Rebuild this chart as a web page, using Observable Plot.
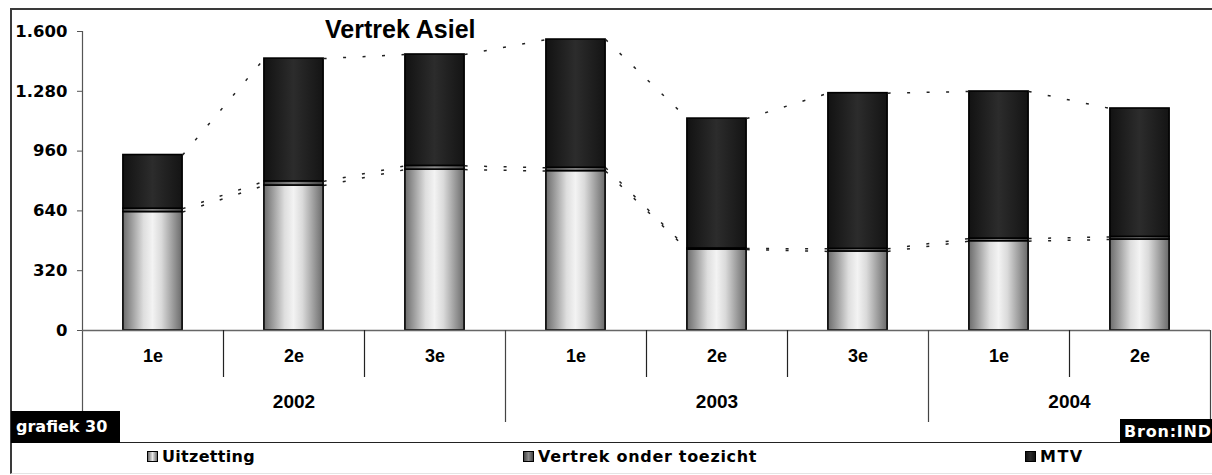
<!DOCTYPE html>
<html><head><meta charset="utf-8">
<script src="https://cdn.jsdelivr.net/npm/d3@7"></script>
<script src="https://cdn.jsdelivr.net/npm/@observablehq/plot@0.6"></script>
<style>
html,body{margin:0;padding:0;background:#fff;width:1212px;height:475px;overflow:hidden;}
body{position:relative;}
#frame{position:absolute;left:10px;top:8px;width:1210px;height:466px;border-left:2px solid #3a3a3a;border-top:2px solid #3a3a3a;border-bottom:1px solid #e4e4e4;box-sizing:border-box;}
#chart{position:absolute;left:0;top:0;}
#title{position:absolute;left:325px;top:17px;font:bold 25px/25px "Liberation Sans",Arial,sans-serif;color:#000;}
#hline{position:absolute;left:11px;top:442px;width:1201px;height:0;border-top:1.5px solid #222;}
#graf{position:absolute;left:11px;top:411px;width:104px;height:32px;padding-left:5px;background:#000;color:#fff;font:bold 16px/32px "DejaVu Sans",sans-serif;}
#bron{position:absolute;left:1120px;top:419px;width:92px;height:24px;padding-left:4px;box-sizing:border-box;background:#000;color:#fff;font:bold 16px/25px "DejaVu Sans",sans-serif;letter-spacing:0.8px;white-space:nowrap;}
.lg{position:absolute;top:449px;font:bold 16px/16px "DejaVu Sans",sans-serif;color:#000;white-space:nowrap;}
.sw{display:inline-block;width:9px;height:9px;border:1px solid #000;margin-right:4px;vertical-align:0px;}
</style></head><body>
<div id="frame"></div>
<div id="chart"></div>
<div id="title">Vertrek Asiel</div>
<div id="hline"></div>
<div id="graf">grafiek 30</div>
<div id="bron">Bron:IND</div>
<div id="legend"></div>
<script>
// ---- data ----
const quarters = ["1e","2e","3e","1e","2e","3e","1e","2e"];
const years = ["2002","2002","2002","2003","2003","2003","2004","2004"];
const uitzetting = [634, 776, 861, 853, 433, 423, 478, 487];
const vertrekOnderToezicht = [18, 22, 20, 18, 6, 14, 14, 14];
const mtv = [287, 657, 596, 686, 695, 833, 787, 687];
const seriesNames = ["Uitzetting", "Vertrek onder toezicht", "MTV"];
const yTicks = [0, 320, 640, 960, 1280, 1600];

// ---- derived tables ----
const seriesValues = [uitzetting, vertrekOnderToezicht, mtv];
const gradIds = ["gU", "gV", "gM"];
const hw = 0.21; // half bar width in band units
const rows = [];
const levels = [[], [], []];
quarters.forEach((q, i) => {
  let base = 0;
  seriesValues.forEach((vals, s) => {
    rows.push({i, series: seriesNames[s], y1: base, y2: base + vals[i]});
    base += vals[i];
    levels[s].push(base);
  });
});
const links = [];
levels.forEach(lev => {
  for (let i = 0; i < lev.length - 1; i++) links.push({i, x1: i + hw, x2: i + 1 - hw, y1: lev[i], y2: lev[i + 1]});
});
const idx = quarters.map((_, i) => i);
const yearList = [...new Set(years)];
const yearLabels = yearList.map(y => ({year: y, x: d3.mean(idx.filter(i => years[i] === y))}));
const bounds = [];
for (let i = 0; i < quarters.length - 1; i++) bounds.push({x: i + 0.5, long: years[i] !== years[i + 1]});
bounds.push({x: quarters.length - 0.5, long: true});

const nl = d3.formatLocale({decimal: ",", thousands: ".", grouping: [3], currency: ["", ""]});
const fmt = nl.format(",");

const defs = () => {
  const d = d3.create("svg:defs");
  const grad = (id, stops) => {
    const g = d.append("linearGradient").attr("id", id).attr("x1", 0).attr("x2", 1).attr("y1", 0).attr("y2", 0);
    stops.forEach(([o, c]) => g.append("stop").attr("offset", o).attr("stop-color", c));
  };
  grad("gU", [[0, "#6c6c6c"], [0.15, "#9c9c9c"], [0.35, "#dedede"], [0.5, "#f3f3f3"], [0.65, "#dadada"], [0.85, "#9a9a9a"], [1, "#6a6a6a"]]);
  grad("gV", [[0, "#444"], [0.5, "#8c8c8c"], [1, "#444"]]);
  grad("gM", [[0, "#121212"], [0.5, "#2c2c2c"], [1, "#141414"]]);
  return d.node();
};

const textOpts = {fontFamily: "Liberation Sans, Arial, sans-serif", fontWeight: "bold", fill: "#000"};

const chart = Plot.plot({
  width: 1212,
  height: 440,
  marginLeft: 82,
  marginRight: 2,
  marginTop: 31,
  marginBottom: 110,
  style: {background: "transparent", overflow: "visible"},
  x: {type: "linear", domain: [-0.5, quarters.length - 0.5], axis: null},
  y: {domain: [0, 1600], axis: null},
  color: {type: "ordinal", domain: seriesNames, range: gradIds.map(g => `url(#${g})`)},
  marks: [
    defs,
    Plot.rect(rows, {x1: d => d.i - hw, x2: d => d.i + hw, y1: "y1", y2: "y2", fill: "series", stroke: "#000", strokeWidth: 1.6}),
    Plot.link(links, {x1: "x1", x2: "x2", y1: "y1", y2: "y2", stroke: "#222", strokeWidth: 1.5, strokeDasharray: "3,16.5"}),
    Plot.ruleX([-0.5], {stroke: "#555", strokeWidth: 1.2, insetBottom: -92}),
    Plot.ruleY([0], {stroke: "#666", strokeWidth: 1.4}),
    Plot.ruleX(bounds.filter(b => !b.long), {x: "x", stroke: "#222", strokeWidth: 1.2, insetTop: 299, insetBottom: -47}),
    Plot.ruleX(bounds.filter(b => b.long), {x: "x", stroke: "#444", strokeWidth: 1.2, insetTop: 299, insetBottom: -92}),
    Plot.axisY({ticks: yTicks, tickFormat: fmt, tickSize: 5, tickPadding: 10, stroke: "#555", fontSize: 16.5, fontFamily: "DejaVu Sans, sans-serif", fontWeight: "bold", fill: "#000"}),
    Plot.text(idx, {x: d => d, text: d => quarters[d], frameAnchor: "bottom", dy: 31, fontSize: 18, ...textOpts}),
    Plot.text(yearLabels, {x: "x", text: "year", frameAnchor: "bottom", dy: 77, fontSize: 19, ...textOpts})
  ]
});
document.getElementById("chart").appendChild(chart);

// legend
const legendLeft = [147, 523, 1025];
const legendBg = [
  "linear-gradient(to right,#6c6c6c,#e8e8e8,#6c6c6c)",
  "linear-gradient(to right,#444,#8c8c8c,#444)",
  "linear-gradient(to right,#121212,#2c2c2c,#141414)"
];
const legendSpacing = ["0.3px", "0.7px", "1.5px"];
const lg = document.getElementById("legend");
seriesNames.forEach((name, s) => {
  const el = document.createElement("div");
  el.className = "lg";
  el.style.left = legendLeft[s] + "px";
  el.style.letterSpacing = legendSpacing[s];
  el.innerHTML = `<span class="sw" style="background:${legendBg[s]}"></span>${name}`;
  lg.appendChild(el);
});
</script>
</body></html>
